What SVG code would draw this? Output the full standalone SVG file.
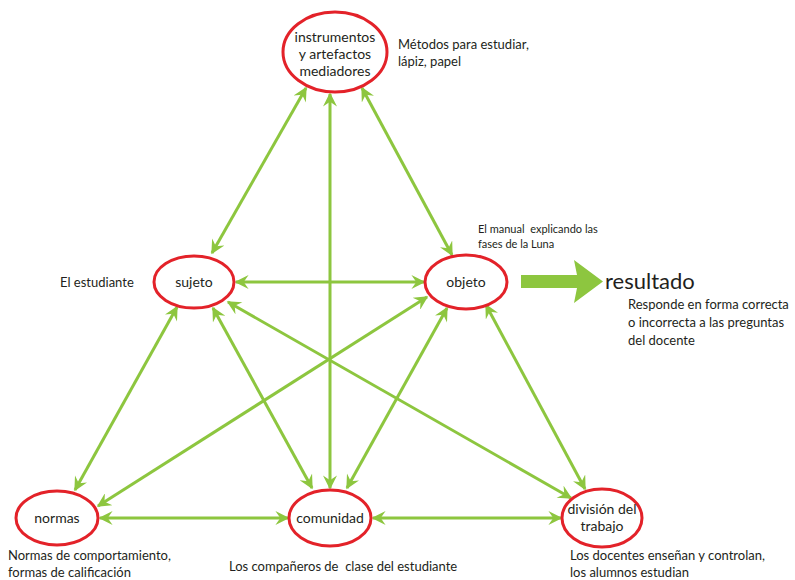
<svg xmlns="http://www.w3.org/2000/svg" width="795" height="580" viewBox="0 0 795 580">
<style>
text{white-space:pre}
.node{fill:#fff;stroke:#e32229;stroke-width:3}
.lbl{font-family:Lato,"Liberation Sans",sans-serif;font-size:14px;fill:#231f20;text-anchor:middle}
.note{font-family:Lato,"Liberation Sans",sans-serif;font-size:13px;fill:#231f20}
.small{font-family:Lato,"Liberation Sans",sans-serif;font-size:11px;fill:#231f20}
.con{stroke:#8dc63f;stroke-width:3;fill:none;marker-start:url(#ah);marker-end:url(#ah)}
</style>
<defs>
<marker id="ah" viewBox="0 0 10 10" refX="9" refY="5" markerUnits="userSpaceOnUse" markerWidth="15" markerHeight="14" orient="auto-start-reverse">
<path d="M0,0 L10,5 L0,10 L3.5,5 z" fill="#8dc63f"/>
</marker>
</defs>
<rect width="795" height="580" fill="#fff"/>
<g id="connectors">
<line class="con" x1="306" y1="88" x2="212" y2="253"/>
<line class="con" x1="362" y1="88" x2="452" y2="255"/>
<line class="con" x1="330" y1="94" x2="330" y2="488"/>
<line class="con" x1="236" y1="282" x2="424" y2="282"/>
<line class="con" x1="177" y1="307" x2="75" y2="490"/>
<line class="con" x1="213" y1="308" x2="312" y2="488"/>
<line class="con" x1="228" y1="302" x2="571" y2="498"/>
<line class="con" x1="427" y1="297" x2="98" y2="506"/>
<line class="con" x1="447" y1="308" x2="347" y2="488"/>
<line class="con" x1="486" y1="305" x2="585" y2="489"/>
<line class="con" x1="100" y1="518" x2="288" y2="518"/>
<line class="con" x1="373" y1="518" x2="561" y2="518"/>
<path d="M521,275 L577,275 L574,260 L603,281.5 L574,303 L577,288 L521,288 z" fill="#8dc63f"/>
</g>
<g id="instrumentos">
<ellipse class="node" cx="335" cy="52" rx="52" ry="40"/>
<text class="lbl" x="335" y="42">instrumentos</text>
<text class="lbl" x="335" y="59">y artefactos</text>
<text class="lbl" x="335" y="76">mediadores</text>
</g>
<g id="sujeto">
<ellipse class="node" cx="194" cy="282" rx="40" ry="26"/>
<text class="lbl" x="194" y="287">sujeto</text>
</g>
<g id="objeto">
<ellipse class="node" cx="466" cy="282" rx="41" ry="27"/>
<text class="lbl" x="466" y="287">objeto</text>
</g>
<g id="normas">
<ellipse class="node" cx="57" cy="518" rx="41" ry="27"/>
<text class="lbl" x="57" y="523">normas</text>
</g>
<g id="comunidad">
<ellipse class="node" cx="330" cy="518" rx="41" ry="28"/>
<text class="lbl" x="330" y="523">comunidad</text>
</g>
<g id="division">
<ellipse class="node" cx="602" cy="518" rx="40" ry="29"/>
<text class="lbl" x="602" y="514">división del</text>
<text class="lbl" x="602" y="531">trabajo</text>
</g>
<g id="notes">
<text class="note" x="398" y="49">Métodos para estudiar,</text>
<text class="note" x="398" y="66">lápiz, papel</text>
<text class="small" x="478" y="233">El manual  explicando las</text>
<text class="small" x="478" y="248">fases de la Luna</text>
<text class="note" x="60" y="287">El estudiante</text>
<text x="605" y="289" style="font-family:Lato,'Liberation Sans',sans-serif;font-size:22px;fill:#231f20">resultado</text>
<text class="note" x="628" y="309">Responde en forma correcta</text>
<text class="note" x="628" y="327">o incorrecta a las preguntas</text>
<text class="note" x="628" y="345">del docente</text>
<text class="note" x="8" y="560">Normas de comportamiento,</text>
<text class="note" x="8" y="577">formas de calificación</text>
<text class="note" x="229" y="571">Los compañeros de  clase del estudiante</text>
<text class="note" x="570" y="560">Los docentes enseñan y controlan,</text>
<text class="note" x="570" y="577">los alumnos estudian</text>
</g>
</svg>
